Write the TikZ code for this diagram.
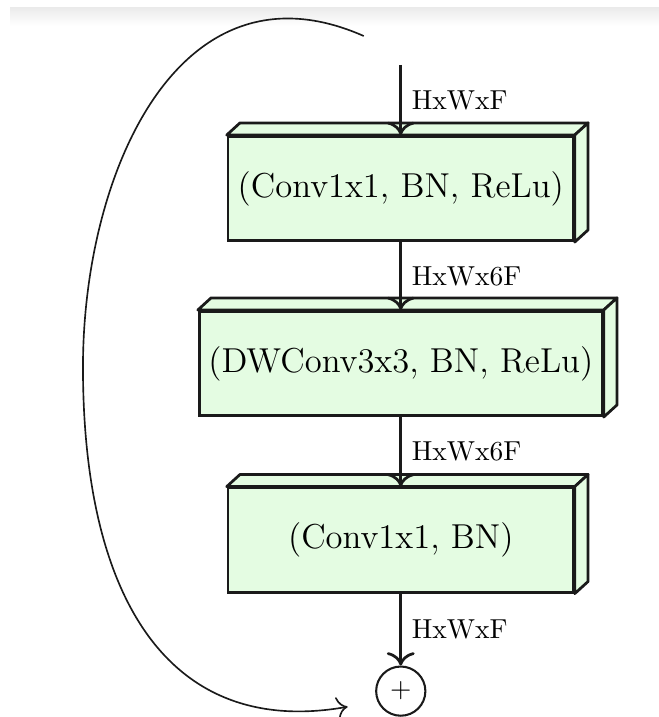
\documentclass[tikz,border=0pt]{standalone}
\usepackage{xcolor}
\definecolor{cFace}{HTML}{E4FCE2}
\definecolor{cEdge}{HTML}{1A1A1A}
\definecolor{cBand}{HTML}{EBEBEB}
\usepackage{tikz}
\usetikzlibrary{positioning,arrows.meta}
\tikzset{
  slab-front/.style={draw=cEdge,line width=1pt,fill=cFace,
    minimum width=4.42cm,minimum height=1.335cm,align=center,
    font=\fontsize{12.6}{15}\selectfont},
  slab-face/.style={draw=cEdge,line width=1pt,fill=cFace,line join=round},
  node-sum/.style={draw=cEdge,line width=0.75pt,circle,
    minimum size=0.63cm,inner sep=0pt},
  arrow/.style={-{To[length=1.7mm]},line width=1pt,draw=cEdge},
  arrow-skip/.style={-{To[length=1.4mm]},line width=0.6pt,draw=cEdge},
  dim-label/.style={right,font=\normalsize,inner sep=3.5pt},
}
% top and side face of a slab, offset behind the front face
\newcommand{\slabdepth}[1]{%
  \draw[slab-face] (#1.north west) -- ++(0.17,0.155)
    -- ([shift={(0.17,0.155)}]#1.north east) -- (#1.north east) -- cycle;
  \draw[slab-face] (#1.north east) -- ++(0.17,0.155)
    -- ([shift={(0.17,0.155)}]#1.south east) -- (#1.south east) -- cycle;
}

\begin{document}
\begin{tikzpicture}[node distance=0.89cm]
  \useasboundingbox (0,0) rectangle (8.435,-9.178);
  \shade[top color=cBand,bottom color=white] (0.13,-0.1) rectangle (8.435,-0.33);

  \coordinate (in) at (5.13,-0.832);
  \node[slab-front,below=0.896cm of in] (conv1) {(Conv1x1, BN, ReLu)};
  \node[slab-front,below=0.87cm of conv1] (dwconv) {(DWConv3x3, BN, ReLu)};
  \node[slab-front,below=of dwconv] (conv2) {(Conv1x1, BN)};
  \node[node-sum,below=0.92cm of conv2] (sum) {+};

  \slabdepth{conv1}
  \slabdepth{dwconv}
  \slabdepth{conv2}

  \draw[arrow] (in) -- node[dim-label]{HxWxF} (conv1);
  \draw[arrow] (conv1) -- node[dim-label]{HxWx6F} (dwconv);
  \draw[arrow] (dwconv) -- node[dim-label]{HxWx6F} (conv2);
  \draw[arrow] (conv2) -- node[dim-label]{HxWxF} (sum);

  % skip connection round the left side
  \coordinate (skip-out) at ([shift={(-0.474,0.371)}]in);
  \coordinate (skip-in) at ([shift={(-0.68,-0.2)}]sum.center);
  \draw[arrow-skip] (skip-out) .. controls (2.3,0.58) and (1.062,-2.2) .. (1.062,-4.7)
    .. controls (1.062,-7.68) and (2.176,-9.45) .. (skip-in);
\end{tikzpicture}
\end{document}
